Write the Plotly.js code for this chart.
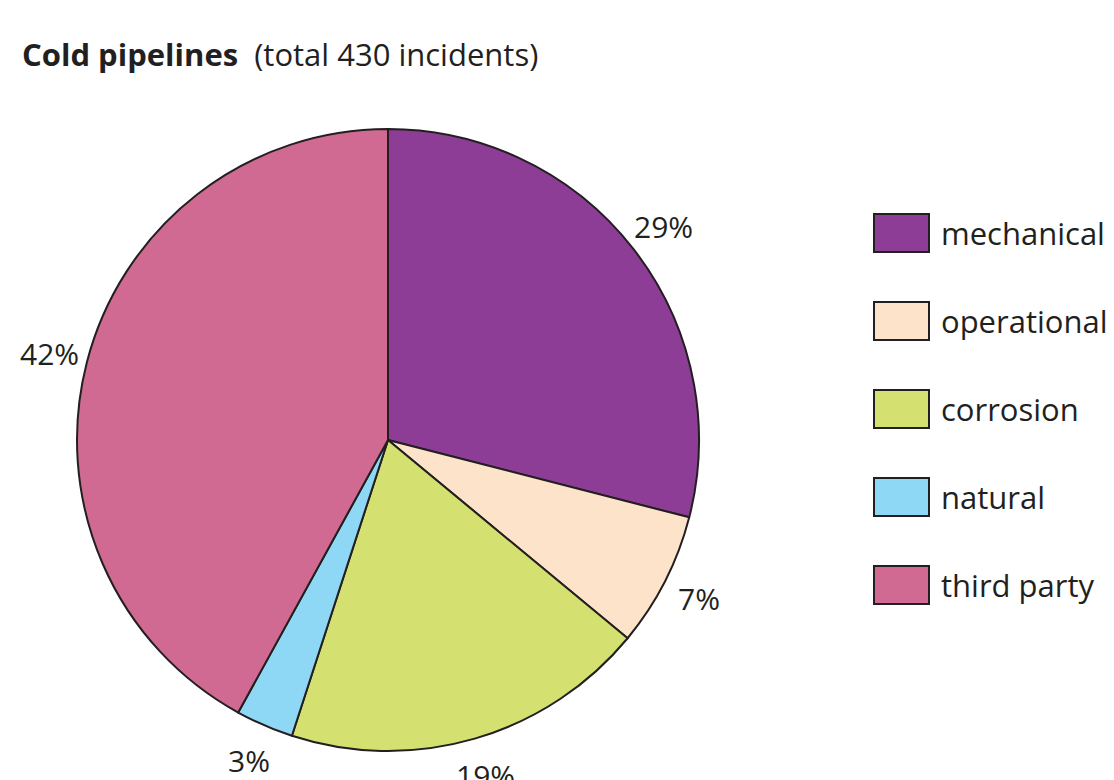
<!DOCTYPE html>
<html>
<head>
<meta charset="utf-8">
<script src="https://cdn.plot.ly/plotly-3.0.1.min.js"></script>
<style>html,body{margin:0;padding:0;background:#fff;}#chart{width:1114px;height:780px;}</style>
</head>
<body>
<div id="chart"></div>
<script>
var categories = ["mechanical", "operational", "corrosion", "natural", "third party"];
var shares = [29, 7, 19, 3, 42];
var colors = ["#8E3D96", "#FDE3C9", "#D4E070", "#8ED8F5", "#D06A93"];
var titleBold = "Cold pipelines";
var titleRest = "(total 430 incidents)";

var W = 1114, H = 780;
var cx = 388, cy = 440, r = 311, labelR = 349;
var font = "Open Sans, Noto Sans, sans-serif";
var ink = "#231F20";

var trace = {
  type: "pie",
  labels: categories,
  values: shares,
  sort: false,
  direction: "clockwise",
  rotation: 0,
  marker: {colors: colors, line: {color: ink, width: 2}},
  textinfo: "none",
  automargin: false,
  showlegend: false,
  hoverinfo: "label+percent",
  domain: {x: [(cx - r) / W, (cx + r) / W], y: [(H - cy - r) / H, (H - cy + r) / H]}
};

var shapes = [], annotations = [];
// percentage labels placed outside each slice at its mid-angle (derived from the data)
var total = shares.reduce(function (a, b) { return a + b; }, 0);
var cum = 0;
shares.forEach(function (v) {
  var mid = (cum + v / 2) / total * 2 * Math.PI;
  cum += v;
  var px = cx + labelR * Math.sin(mid), py = cy - labelR * Math.cos(mid);
  annotations.push({xref: "paper", yref: "paper", x: px / W, y: 1 - py / H,
    xanchor: "center", yanchor: "middle", showarrow: false,
    text: Math.round(v / total * 100) + "%",
    font: {family: font, size: 30, color: ink}});
});

var lx0 = 874, lx1 = 929, ly0 = 214, lh = 38, step = 88;
categories.forEach(function (c, i) {
  var y0 = ly0 + i * step;
  shapes.push({type: "rect", xref: "paper", yref: "paper",
    x0: lx0 / W, x1: lx1 / W, y0: 1 - y0 / H, y1: 1 - (y0 + lh) / H,
    fillcolor: colors[i], line: {color: ink, width: 2}});
  annotations.push({xref: "paper", yref: "paper", x: 939 / W, y: 1 - (y0 + lh / 2) / H,
    xanchor: "left", yanchor: "middle", showarrow: false, text: c,
    font: {family: font, size: 31, color: ink}});
});

var layout = {
  width: W, height: H,
  margin: {l: 0, r: 0, t: 0, b: 0},
  paper_bgcolor: "#fff",
  title: {text: "<b>" + titleBold + "</b>  " + titleRest, x: 22 / W, xanchor: "left", xref: "paper",
    y: 1 - 55 / H, yanchor: "middle", yref: "paper",
    font: {family: font, size: 31, color: ink}},
  shapes: shapes,
  annotations: annotations
};

Plotly.newPlot("chart", [trace], layout, {displayModeBar: false, staticPlot: true});
</script>
</body>
</html>
